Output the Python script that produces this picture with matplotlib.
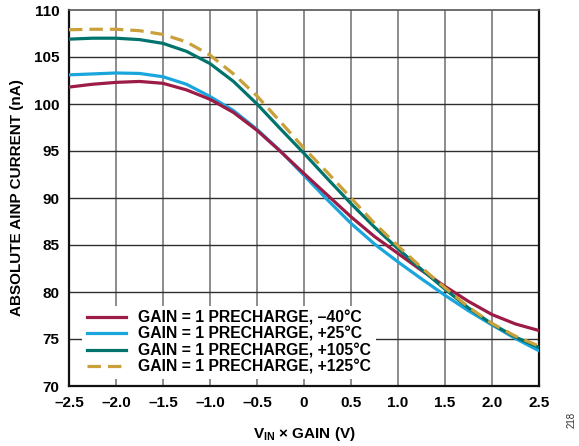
import matplotlib
matplotlib.use("Agg")
import matplotlib.pyplot as plt

plt.rcParams['font.family'] = ['Liberation Sans', 'DejaVu Sans']
plt.rcParams['font.weight'] = 'bold'
plt.rcParams['mathtext.fontset'] = 'custom'
plt.rcParams['mathtext.rm'] = 'Liberation Sans:bold'
plt.rcParams['mathtext.bf'] = 'Liberation Sans:bold'
plt.rcParams['mathtext.it'] = 'Liberation Sans:bold'

# Input voltage times gain (V)
vin_gain = [-2.5, -2.25, -2.0, -1.75, -1.5, -1.25, -1.0, -0.75, -0.5, -0.25, 0.0,
            0.25, 0.5, 0.75, 1.0, 1.25, 1.5, 1.75, 2.0, 2.25, 2.5]

# Absolute AINP current (nA) per temperature, gain = 1 with precharge
i_m40 = [101.8, 102.1, 102.3, 102.4, 102.2, 101.5, 100.5, 99.1, 97.2, 94.95, 92.6,
         90.3, 88.0, 85.9, 84.1, 82.3, 80.6, 79.0, 77.6, 76.6, 75.9]
i_p25 = [103.1, 103.2, 103.3, 103.25, 102.9, 102.1, 100.8, 99.3, 97.3, 95.0, 92.4,
         89.8, 87.3, 85.1, 83.2, 81.4, 79.65, 78.0, 76.5, 75.05, 73.75]
i_p105 = [106.9, 107.0, 107.0, 106.85, 106.45, 105.6, 104.3, 102.4, 100.0, 97.35, 94.75,
          92.05, 89.4, 86.9, 84.6, 82.4, 80.3, 78.3, 76.6, 75.2, 74.1]
i_p125 = [107.9, 107.95, 107.95, 107.8, 107.4, 106.6, 105.2, 103.2, 100.85, 98.1, 95.3,
          92.7, 90.0, 87.3, 84.9, 82.6, 80.45, 78.4, 76.65, 75.3, 74.25]

labels = ["GAIN = 1 PRECHARGE, \u201340\u00b0C",
          "GAIN = 1 PRECHARGE, +25\u00b0C",
          "GAIN = 1 PRECHARGE, +105\u00b0C",
          "GAIN = 1 PRECHARGE, +125\u00b0C"]

x_ticks = [-2.5, -2.0, -1.5, -1.0, -0.5, 0, 0.5, 1.0, 1.5, 2.0, 2.5]
x_ticklabels = ["\u20132.5", "\u20132.0", "\u20131.5", "\u20131.0", "\u20130.5", "0",
                "0.5", "1.0", "1.5", "2.0", "2.5"]
y_ticks = [70, 75, 80, 85, 90, 95, 100, 105, 110]

fs = 11

fig = plt.figure(figsize=(5.79, 4.46), dpi=100)
ax = fig.add_axes([69 / 579, 1 - 386 / 446, 470 / 579, 376 / 446])

lw = 2.3
ax.plot(vin_gain, i_m40, color='#9C1C46', lw=lw, zorder=4, label=labels[0],
        solid_joinstyle='round')
ax.plot(vin_gain, i_p25, color='#1AA5DD', lw=lw, zorder=3, label=labels[1],
        solid_joinstyle='round')
ax.plot(vin_gain, i_p105, color='#00746C', lw=lw, zorder=5, label=labels[2],
        solid_joinstyle='round')
ax.plot(vin_gain, i_p125, color='#C9A03A', lw=lw, zorder=6, label=labels[3],
        dashes=(4.2, 2.2))

ax.set_xlim(-2.5, 2.5)
ax.set_ylim(70, 110)
ax.set_xticks(x_ticks)
ax.set_xticklabels(x_ticklabels)
ax.set_yticks(y_ticks)

for x in x_ticks[1:-1]:
    ax.axvline(x, color='#8C8C8C', lw=1.4, zorder=1)
for y in y_ticks[1:-1]:
    ax.axhline(y, color='#2E2E2E', lw=1.0, zorder=1)

for side in ['left', 'bottom', 'right']:
    ax.spines[side].set_linewidth(1.6)
    ax.spines[side].set_color('#111111')
ax.spines['top'].set_linewidth(1.2)
ax.spines['top'].set_color('#555555')

ax.tick_params(axis='both', length=0, pad=7, labelsize=fs)
for t in ax.get_xticklabels() + ax.get_yticklabels():
    t.set_fontweight('bold')

ax.set_ylabel("ABSOLUTE AINP CURRENT (nA)", fontsize=fs, fontweight='bold', labelpad=7)
ax.set_xlabel("V$_{\\mathrm{IN}}$ \u00d7 GAIN (V)", fontsize=fs, fontweight='bold', labelpad=11)

leg = ax.legend(loc='lower left', bbox_to_anchor=(0.028, 0.018), frameon=True,
                fancybox=False, edgecolor='none', framealpha=1.0,
                prop={'size': 11.3, 'weight': 'bold'}, handlelength=2.5,
                handletextpad=0.75, labelspacing=0.08, borderpad=0.3,
                borderaxespad=0)
leg.set_zorder(10)

fig.text(572 / 579, 1 - 420 / 446, "218", rotation=90, fontsize=7, fontweight='normal',
         ha='center', va='center', color='#333333')

fig.savefig("out.png", dpi=100)
